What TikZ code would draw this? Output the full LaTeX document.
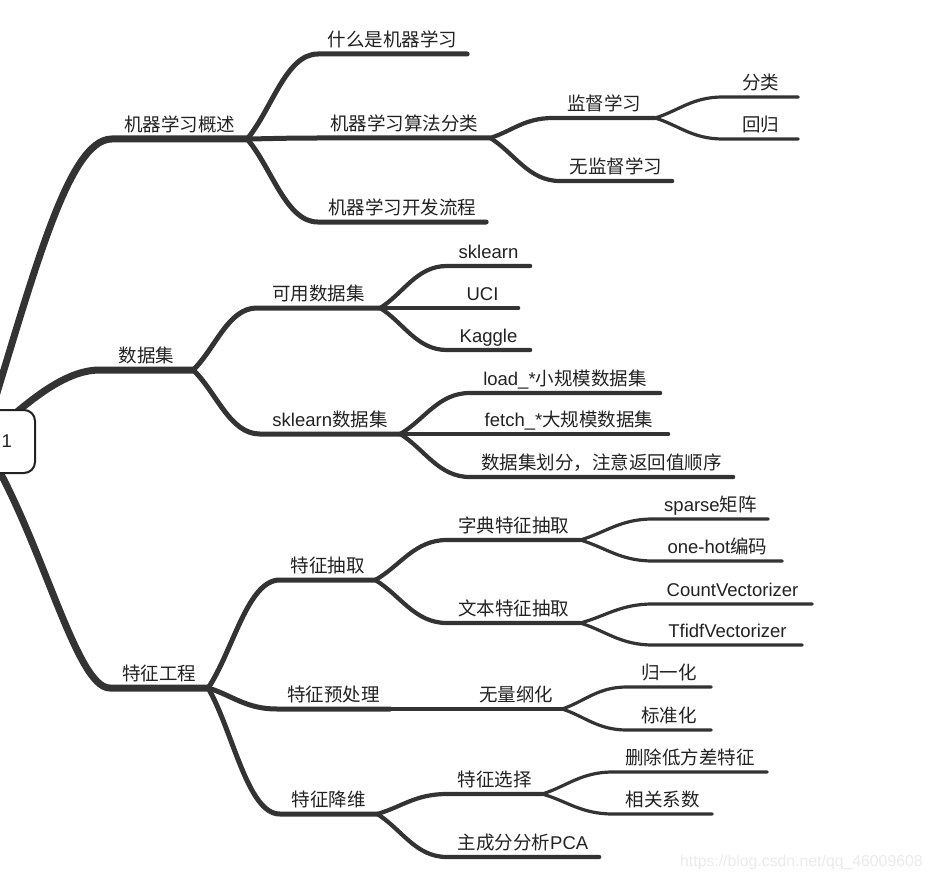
\documentclass[tikz,border=0pt]{standalone}
\usepackage{fontspec}
\setmainfont{Noto Sans CJK SC}
\newfontfamily\latfont{Liberation Sans}
\newcommand{\en}[1]{{\latfont #1}}
\usetikzlibrary{calc,backgrounds}

\definecolor{branchgray}{HTML}{333333}
\definecolor{textgray}{HTML}{222222}

\tikzset{
  topic/.style={anchor=south, inner xsep=0pt, inner ysep=3pt,
    text height=14pt, text depth=4pt, text=textgray,
    font=\fontsize{18.5}{22}\selectfont},
  rootbox/.style={draw=textgray, line width=2pt, fill=white,
    rounded corners=11pt, minimum height=63pt, inner xsep=23pt,
    text width=60pt, align=right, text=textgray,
    font=\latfont\fontsize{18.5}{22}\selectfont},
  branch/.style={to path={.. controls ($(\tikztostart)!0.35!(\tikztotarget)$)
    and ($(\tikztotarget)!0.45!(\tikztostart |- \tikztotarget)$) .. (\tikztotarget)}},
  main line/.style={draw=branchgray, line width=7pt, line cap=round},
  sub line/.style={draw=branchgray, line width=5pt, line cap=round},
  minor line/.style={draw=branchgray, line width=4.2pt, line cap=round},
  leaf line/.style={draw=branchgray, line width=3.2pt, line cap=round}
}

\begin{document}
\begin{tikzpicture}[x=1pt, y=-1pt]

  \useasboundingbox (0,0) rectangle (932,880);

  % root
  \node[rootbox] (root) at (-18,441.5) {1};

  % topics: name / line start / line end / line y / text
  \foreach \n/\a/\b/\y/\t in {
    ml/112/247/139/机器学习概述,
    data/100/193/370/数据集,
    feat/110/208/688/特征工程,
    what/318/467/54/什么是机器学习,
    algo/318/490/138/机器学习算法分类,
    flow/318/486/222/机器学习开发流程,
    avail/257/380/308/可用数据集,
    skdata/260/400/434/{\en{sklearn}数据集},
    extract/280/375/580/特征抽取,
    prep/277/390/709/特征预处理,
    reduce/280/377/814/特征降维,
    sup/553/655/118/监督学习,
    unsup/560/672/181/无监督学习,
    sklearn/447/530/266/{\en{sklearn}},
    uci/447/518/308/{\en{UCI}},
    kaggle/447/530/350/{\en{Kaggle}},
    load/470/660/393/{\en{load\_*}小规模数据集},
    fetch/470/668/434/{\en{fetch\_*}大规模数据集},
    split/470/733/477/数据集划分，注意返回值顺序,
    dict/447/580/540/字典特征抽取,
    txt/447/580/623/文本特征抽取,
    scale/470/562/709/无量纲化,
    select/447/542/794/特征选择,
    pca/447/599/857/{主成分分析\en{PCA}},
    cls/723/798/97/分类,
    reg/723/798/139/回归,
    sparse/653/768/519/{\en{sparse}矩阵},
    onehot/653/782/561/{\en{one-hot}编码},
    count/653/812/604/{\en{CountVectorizer}},
    tfidf/653/802/645/{\en{TfidfVectorizer}},
    norm/627/711/687/归一化,
    std/627/711/730/标准化,
    var/613/767/772/删除低方差特征,
    corr/613/712/814/相关系数}
  \node[topic, minimum width={(\b-\a)*1pt}] (\n) at ({(\a+\b)/2},\y) {\t};

  \node[anchor=west, inner sep=0pt, text=black!8,
    font=\latfont\fontsize{15.8}{18}\selectfont] (mark) at (680,862)
    {https://blog.csdn.net/qq\_46009608};

  \begin{pgfonlayer}{background}
    \fill[white] (0,0) rectangle (932,880);

    % branches
    \draw[main line] (root.center) .. controls +(50,-160) and +(-45,0) .. (ml.south west) -- (ml.south east);
    \draw[main line] (root.center) .. controls +(38,-31.5) and +(-40,0) .. (data.south west) -- (data.south east);
    \draw[main line] (root.center) .. controls +(58,88.5) and +(-35,0) .. (feat.south west) -- (feat.south east);

    \foreach \p/\c in {ml/what, ml/algo, ml/flow, data/avail, data/skdata,
      feat/extract, feat/prep, feat/reduce}
    \draw[sub line] (\p.south east) to[branch] (\c.south west) -- (\c.south east);

    \foreach \p/\c in {algo/sup, algo/unsup, avail/sklearn, avail/uci, avail/kaggle,
      skdata/load, skdata/fetch, skdata/split, extract/dict, extract/txt,
      prep/scale, reduce/select, reduce/pca}
    \draw[minor line] (\p.south east) to[branch] (\c.south west) -- (\c.south east);

    \foreach \p/\c in {sup/cls, sup/reg, dict/sparse, dict/onehot, txt/count,
      txt/tfidf, scale/norm, scale/std, select/var, select/corr}
    \draw[leaf line] (\p.south east) to[branch] (\c.south west) -- (\c.south east);
  \end{pgfonlayer}

\end{tikzpicture}
\end{document}
